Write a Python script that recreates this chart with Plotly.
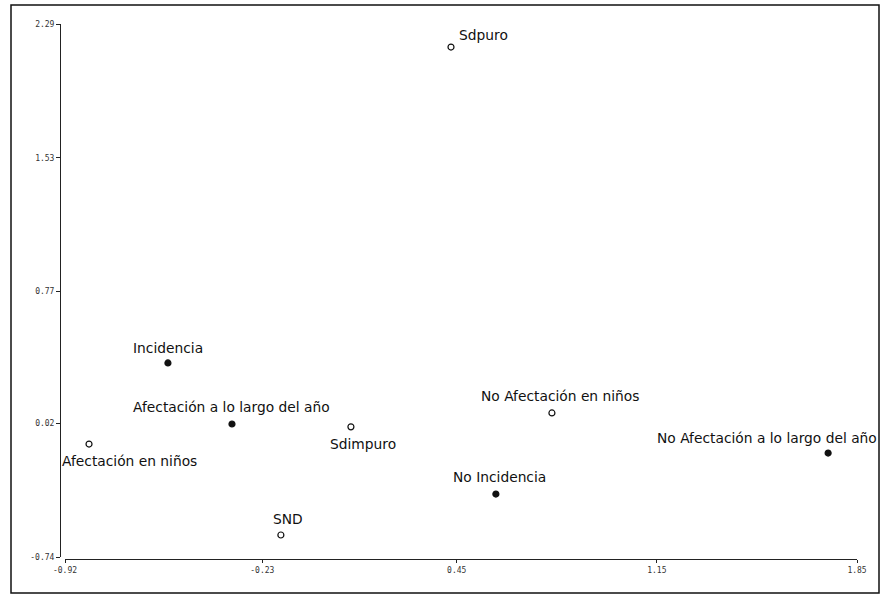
import plotly.graph_objects as go

# Category coordinates on the two correspondence-analysis dimensions
labels = ["Sdpuro", "Incidencia", "Afectación a lo largo del año", "Afectación en niños",
          "Sdimpuro", "No Afectación en niños", "No Incidencia", "SND",
          "No Afectación a lo largo del año"]
dim1 = [0.43, -0.56, -0.336, -0.836, 0.08, 0.783, 0.587, -0.165, 1.749]
dim2 = [2.159, 0.363, 0.016, -0.098, 0.0, 0.079, -0.382, -0.615, -0.149]
filled = [False, True, True, False, False, False, True, False, True]

x_ticks = [-0.92, -0.23, 0.45, 1.15, 1.85]
y_ticks = [-0.74, 0.02, 0.77, 1.53, 2.29]

W, H = 885, 597

# label placement: (xanchor, xshift, yshift)
label_style = {
    "Sdpuro": ("left", 6, 12),
    "Incidencia": ("center", 0, 15),
    "Afectación a lo largo del año": ("center", 0, 17),
    "Afectación en niños": ("left", -29, -17),
    "Sdimpuro": ("center", 12, -17),
    "No Afectación en niños": ("center", 8, 17),
    "No Incidencia": ("center", 4, 17),
    "SND": ("center", 7, 16),
    "No Afectación a lo largo del año": ("right", 51, 15),
}

fig = go.Figure()
for is_filled in (True, False):
    xs = [x for x, f in zip(dim1, filled) if f == is_filled]
    ys = [y for y, f in zip(dim2, filled) if f == is_filled]
    fig.add_trace(go.Scatter(
        x=xs, y=ys, mode="markers", showlegend=False, cliponaxis=False,
        marker=dict(symbol="circle", size=6,
                    color="#111" if is_filled else "white",
                    line=dict(color="#111", width=1.2)),
    ))

for lab, x, y in zip(labels, dim1, dim2):
    xa, xs, ys = label_style[lab]
    fig.add_annotation(x=x, y=y, text=lab, showarrow=False, xanchor=xa, yanchor="middle",
                       xshift=xs, yshift=ys,
                       font=dict(family="DejaVu Sans, sans-serif", size=13.8, color="#111"))

axis_font = dict(family="DejaVu Sans Mono, monospace", size=8, color="#333")
fig.update_layout(
    width=W, height=H,
    margin=dict(l=0, r=0, t=0, b=0, autoexpand=False),
    paper_bgcolor="white", plot_bgcolor="white",
    xaxis=dict(domain=[65 / W, 857 / W], range=[x_ticks[0], x_ticks[-1]],
               anchor="free", position=(H - 559) / H, automargin=False,
               tickvals=x_ticks, ticktext=[f"{v:.2f}" for v in x_ticks],
               showgrid=False, zeroline=False, showline=True, linecolor="#222", linewidth=1,
               ticks="outside", ticklen=3, tickcolor="#222", tickfont=axis_font),
    yaxis=dict(domain=[(H - 557) / H, (H - 24) / H], range=[y_ticks[0], y_ticks[-1]],
               anchor="free", position=60 / W, automargin=False,
               tickvals=y_ticks, ticktext=[f"{v:.2f}" for v in y_ticks],
               showgrid=False, zeroline=False, showline=True, linecolor="#222", linewidth=1,
               ticks="outside", ticklen=4, tickcolor="#222", tickfont=axis_font),
    shapes=[dict(type="rect", xref="paper", yref="paper",
                 x0=11 / W, x1=879 / W, y0=(H - 593) / H, y1=(H - 5) / H,
                 line=dict(color="#111", width=1.5), fillcolor="rgba(0,0,0,0)")],
)

fig.write_html("out.html")
